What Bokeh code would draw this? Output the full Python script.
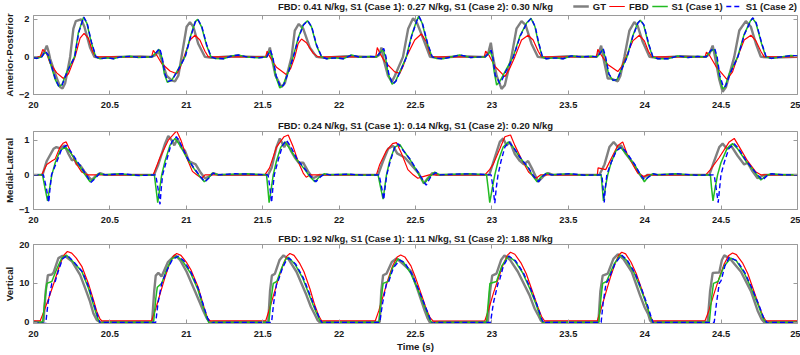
from bokeh.plotting import figure
from bokeh.layouts import column
from bokeh.models import Range1d, FixedTicker, Legend, LegendItem, LinearAxis, Label
from bokeh.embed import file_html
from bokeh.resources import INLINE

# ---------------- data ----------------
X_TICKS = [20, 20.5, 21, 21.5, 22, 22.5, 23, 23.5, 24, 24.5, 25]
X_TICK_LABELS = ["20", "20.5", "21", "21.5", "22", "22.5", "23", "23.5", "24", "24.5", "25"]

TITLES = [
    "FBD: 0.41 N/kg, S1 (Case 1): 0.27 N/kg, S1 (Case 2): 0.30 N/kg",
    "FBD: 0.24 N/kg, S1 (Case 1): 0.14 N/kg, S1 (Case 2): 0.20 N/kg",
    "FBD: 1.92 N/kg, S1 (Case 1): 1.11 N/kg, S1 (Case 2): 1.88 N/kg",
]
Y_LABELS = ["Anterior-Posterior", "Medial-Lateral", "Vertical"]
Y_TICKS = [[-2, 0, 2], [-1, 0, 1], [0, 10, 20]]
Y_LIMITS = [(-2.0, 2.2), (-1.0, 1.25), (-0.3, 20.0)]
SERIES_NAMES = ["GT", "FBD", "S1 (Case 1)", "S1 (Case 2)"]

# ---- Anterior-Posterior (t, value) ----
AP_GT = [
    (20.00, -0.05), (20.044, 0.0), (20.072, 0.3), (20.087, 0.6), (20.098, 0.3), (20.109, -0.1), (20.142, -0.9),
    (20.174, -1.6), (20.190, -1.68), (20.207, -1.4), (20.240, 0.0), (20.261, 1.5), (20.277, 1.9), (20.312, 2.0),
    (20.333, 1.6), (20.370, 0.5), (20.399, 0.0), (20.436, -0.05), (20.55, 0.0), (20.70, 0.02),
    (20.773, 0.0), (20.800, 0.1), (20.817, 0.35), (20.832, 0.0), (20.871, -1.0), (20.904, -1.25), (20.926, -1.3),
    (20.948, -1.0), (20.969, 0.0), (21.002, 1.6), (21.024, 1.85), (21.046, 1.6), (21.078, 0.7), (21.122, 0.0),
    (21.166, -0.05), (21.30, 0.03), (21.45, 0.0),
    (21.525, 0.0), (21.536, 0.2), (21.547, 0.5), (21.558, 0.0), (21.584, -1.0), (21.623, -1.6), (21.645, -1.4),
    (21.689, 0.0), (21.710, 1.4), (21.736, 1.75), (21.765, 1.5), (21.808, 0.5), (21.852, 0.0), (21.90, -0.05),
    (22.05, 0.03), (22.20, 0.0),
    (22.244, 0.0), (22.262, 0.1), (22.277, 0.5), (22.290, -0.1), (22.320, -1.0), (22.345, -1.33), (22.365, -1.0),
    (22.418, 0.0), (22.452, 1.5), (22.484, 2.05), (22.510, 1.8), (22.549, 1.0), (22.595, 0.0), (22.65, -0.05),
    (22.80, 0.03), (22.93, 0.0),
    (22.954, 0.0), (22.976, 0.2), (22.993, 0.75), (23.007, 0.0), (23.031, -1.0), (23.063, -1.7), (23.085, -1.5),
    (23.128, 0.0), (23.161, 1.5), (23.194, 1.9), (23.220, 1.7), (23.259, 0.7), (23.301, 0.0), (23.35, -0.05),
    (23.50, 0.03), (23.65, 0.0),
    (23.682, 0.0), (23.699, 0.2), (23.715, 0.6), (23.728, 0.0), (23.758, -1.15), (23.780, -1.15), (23.824, -1.3),
    (23.841, -1.0), (23.867, 0.0), (23.900, 1.4), (23.932, 1.85), (23.954, 1.65), (23.987, 0.8), (24.031, 0.0),
    (24.08, -0.05), (24.25, 0.03), (24.38, 0.0),
    (24.401, 0.0), (24.423, 0.15), (24.445, 0.6), (24.460, 0.0), (24.488, -1.2), (24.510, -1.85), (24.532, -1.6),
    (24.586, 0.0), (24.619, 1.4), (24.662, 1.9), (24.695, 1.6), (24.728, 0.7), (24.760, 0.0), (24.85, -0.03),
    (25.00, 0.0),
]
AP_FBD = [
    (20.0, 0.0), (20.044, 0.0), (20.061, 0.4), (20.087, 0.15), (20.109, -0.35), (20.152, -0.85), (20.196, -1.15),
    (20.229, -0.9), (20.272, 0.0), (20.305, 1.0), (20.331, 1.25), (20.359, 1.0), (20.386, 0.3), (20.407, 0.0),
    (20.773, 0.0), (20.784, 0.35), (20.806, 0.1), (20.839, -0.35), (20.893, -0.75), (20.937, -0.9), (20.959, -0.6),
    (20.985, 0.0), (21.024, 0.9), (21.057, 1.15), (21.089, 0.9), (21.122, 0.3), (21.144, 0.0),
    (21.519, 0.0), (21.529, 0.3), (21.547, 0.0), (21.590, -0.55), (21.656, -0.95), (21.684, -0.6), (21.710, 0.0),
    (21.732, 0.7), (21.754, 0.95), (21.786, 0.75), (21.830, 0.2), (21.863, 0.0),
    (22.240, 0.0), (22.250, 0.5), (22.266, 0.2), (22.299, -0.25), (22.364, -0.8), (22.397, -0.88), (22.419, -0.5),
    (22.440, 0.0), (22.495, 0.9), (22.538, 1.22), (22.571, 0.8), (22.593, 0.2), (22.608, 0.0),
    (22.950, 0.0), (22.959, 0.3), (22.980, 0.1), (23.019, -0.5), (23.085, -1.05), (23.117, -0.6), (23.150, 0.0),
    (23.194, 0.9), (23.237, 1.15), (23.270, 0.9), (23.303, 0.3), (23.325, 0.0),
    (23.684, 0.0), (23.693, 0.4), (23.715, 0.1), (23.758, -0.4), (23.824, -0.78), (23.850, -0.5), (23.878, 0.0),
    (23.922, 0.85), (23.965, 1.15), (23.998, 0.85), (24.024, 0.3), (24.046, 0.0),
    (24.395, 0.0), (24.404, 0.25), (24.423, 0.1), (24.466, -0.5), (24.538, -1.2), (24.575, -0.8), (24.608, 0.0),
    (24.651, 0.9), (24.695, 1.15), (24.728, 0.85), (24.760, 0.3), (24.782, 0.0), (25.0, 0.0),
]
AP_S1C1 = [
    (20.00, -0.05), (20.022, -0.08), (20.054, 0.0), (20.076, 0.25), (20.094, 0.1), (20.120, -0.6), (20.142, -1.2),
    (20.163, -1.55), (20.185, -1.5), (20.218, -0.8), (20.268, 0.0), (20.294, 1.3), (20.327, 2.1), (20.349, 1.8),
    (20.377, 0.8), (20.407, 0.0), (20.436, -0.1), (20.479, -0.05), (20.523, -0.1), (20.566, 0.0), (20.632, 0.03),
    (20.686, -0.03), (20.752, 0.0),
    (20.773, 0.0), (20.800, 0.2), (20.821, 0.4), (20.839, 0.0), (20.856, -0.9), (20.876, -1.35), (20.904, -1.25),
    (20.937, -0.8), (20.991, 0.0), (21.024, 1.0), (21.057, 1.85), (21.074, 2.0), (21.100, 1.6), (21.133, 0.6),
    (21.161, 0.0), (21.187, -0.08), (21.242, -0.1), (21.296, 0.05), (21.340, 0.1), (21.394, 0.0), (21.471, -0.05),
    (21.525, 0.0), (21.547, 0.3), (21.562, 0.0), (21.584, -1.0), (21.612, -1.65), (21.634, -1.5), (21.667, -0.8),
    (21.699, 0.0), (21.732, 1.0), (21.765, 1.7), (21.793, 1.92), (21.819, 1.6), (21.852, 0.6), (21.885, 0.0),
    (21.917, -0.1), (21.972, -0.05), (22.026, -0.1), (22.081, 0.1), (22.135, -0.02), (22.200, 0.02),
    (22.244, 0.0), (22.266, 0.2), (22.288, 0.4), (22.303, 0.0), (22.321, -0.9), (22.347, -1.45), (22.369, -1.3),
    (22.408, -0.6), (22.440, 0.0), (22.473, 1.1), (22.506, 1.9), (22.521, 2.15), (22.543, 1.8), (22.578, 0.7),
    (22.608, 0.0), (22.636, -0.08), (22.680, -0.1), (22.789, 0.1), (22.860, -0.03), (22.930, 0.0),
    (22.954, 0.0), (22.976, 0.15), (22.989, 0.3), (23.002, 0.0), (23.015, -0.8), (23.031, -1.5), (23.052, -1.3),
    (23.085, -0.8), (23.139, 0.0), (23.183, 1.1), (23.227, 1.8), (23.256, 2.05), (23.282, 1.6), (23.303, 0.8),
    (23.329, 0.0), (23.355, -0.1), (23.410, -0.05), (23.464, -0.1), (23.519, 0.05), (23.584, 0.0), (23.649, 0.03),
    (23.689, 0.0), (23.710, 0.2), (23.725, 0.4), (23.741, 0.0), (23.763, -0.9), (23.791, -1.25), (23.819, -1.2),
    (23.845, -0.7), (23.884, 0.0), (23.921, 1.1), (23.954, 1.8), (23.971, 1.95), (23.993, 1.7), (24.024, 0.7),
    (24.052, 0.0), (24.085, -0.1), (24.150, -0.1), (24.216, 0.05), (24.281, -0.03), (24.346, 0.02),
    (24.401, 0.0), (24.430, 0.3), (24.455, 0.4), (24.471, 0.0), (24.488, -1.0), (24.510, -1.7), (24.525, -1.6),
    (24.554, -0.9), (24.608, 0.0), (24.651, 1.2), (24.691, 1.9), (24.706, 2.05), (24.728, 1.8), (24.765, 0.7),
    (24.793, 0.0), (24.826, -0.08), (24.891, 0.0), (24.956, 0.07), (25.0, 0.05),
]
AP_S1C2 = [
    (20.00, -0.05), (20.022, -0.08), (20.054, 0.0), (20.078, 0.3), (20.096, 0.1), (20.122, -0.6), (20.144, -1.2),
    (20.165, -1.55), (20.187, -1.5), (20.220, -0.8), (20.270, 0.0), (20.296, 1.3), (20.329, 2.12), (20.351, 1.8),
    (20.379, 0.8), (20.409, 0.0), (20.438, -0.1), (20.481, -0.05), (20.525, -0.1), (20.568, 0.0), (20.634, 0.03),
    (20.688, -0.03), (20.752, 0.0),
    (20.775, 0.0), (20.805, 0.25), (20.826, 0.45), (20.842, 0.0), (20.860, -0.9), (20.880, -1.3), (20.906, -1.25),
    (20.939, -0.8), (20.993, 0.0), (21.026, 1.0), (21.059, 1.85), (21.076, 2.0), (21.102, 1.6), (21.135, 0.6),
    (21.163, 0.0), (21.189, -0.08), (21.244, -0.1), (21.298, 0.05), (21.342, 0.1), (21.396, 0.0), (21.473, -0.05),
    (21.527, 0.0), (21.550, 0.35), (21.566, 0.0), (21.588, -1.0), (21.616, -1.6), (21.637, -1.5), (21.669, -0.8),
    (21.701, 0.0), (21.734, 1.0), (21.767, 1.7), (21.795, 1.92), (21.821, 1.6), (21.854, 0.6), (21.887, 0.0),
    (21.919, -0.1), (21.974, -0.05), (22.028, -0.1), (22.083, 0.1), (22.137, -0.02), (22.202, 0.02),
    (22.246, 0.0), (22.270, 0.25), (22.292, 0.45), (22.307, 0.0), (22.325, -0.9), (22.351, -1.45), (22.372, -1.3),
    (22.410, -0.6), (22.442, 0.0), (22.475, 1.1), (22.508, 1.9), (22.523, 2.15), (22.545, 1.8), (22.580, 0.7),
    (22.610, 0.0), (22.638, -0.08), (22.682, -0.1), (22.791, 0.1), (22.862, -0.03), (22.932, 0.0),
    (22.956, 0.0), (22.980, 0.2), (22.995, 0.35), (23.006, 0.0), (23.022, -1.0), (23.035, -1.1), (23.050, -1.4),
    (23.062, -1.3), (23.090, -0.8), (23.141, 0.0), (23.185, 1.1), (23.229, 1.8), (23.258, 2.05), (23.284, 1.6),
    (23.305, 0.8), (23.331, 0.0), (23.357, -0.1), (23.412, -0.05), (23.466, -0.1), (23.521, 0.05), (23.586, 0.0),
    (23.651, 0.03),
    (23.691, 0.0), (23.713, 0.25), (23.728, 0.45), (23.744, 0.0), (23.766, -0.9), (23.794, -1.25), (23.821, -1.2),
    (23.847, -0.7), (23.886, 0.0), (23.923, 1.1), (23.956, 1.8), (23.973, 1.95), (23.995, 1.7), (24.026, 0.7),
    (24.054, 0.0), (24.087, -0.1), (24.152, -0.1), (24.218, 0.05), (24.283, -0.03), (24.348, 0.02),
    (24.403, 0.0), (24.433, 0.35), (24.458, 0.45), (24.474, 0.0), (24.492, -1.0), (24.515, -1.6), (24.530, -1.55),
    (24.558, -0.9), (24.610, 0.0), (24.653, 1.2), (24.693, 1.9), (24.708, 2.08), (24.730, 1.8), (24.767, 0.7),
    (24.795, 0.0), (24.828, -0.08), (24.893, 0.0), (24.958, 0.07), (25.0, 0.05),
]

# ---- Medial-Lateral (t, value) ----
ML_GT = [
    (20.0, 0.0), (20.059, 0.0), (20.087, 0.4), (20.131, 0.75), (20.150, 0.8), (20.174, 0.76), (20.203, 0.85),
    (20.229, 0.6), (20.251, 0.42), (20.268, 0.45), (20.283, 0.3), (20.305, 0.28), (20.333, 0.1), (20.359, -0.05),
    (20.381, -0.15), (20.403, -0.05), (20.436, 0.05), (20.468, 0.0),
    (20.789, 0.0), (20.817, 0.3), (20.861, 0.9), (20.882, 1.12), (20.904, 1.0), (20.922, 0.85), (20.943, 1.05),
    (20.965, 0.8), (20.991, 0.7), (21.017, 0.4), (21.039, 0.35), (21.061, 0.3), (21.096, 0.05), (21.122, -0.1),
    (21.148, -0.05), (21.176, 0.05), (21.209, 0.0),
    (21.536, 0.0), (21.558, 0.2), (21.590, 0.8), (21.612, 1.05), (21.641, 0.8), (21.658, 0.95), (21.684, 0.7),
    (21.710, 0.5), (21.736, 0.35), (21.765, 0.35), (21.797, 0.1), (21.830, -0.1), (21.874, 0.0),
    (22.255, 0.0), (22.288, 0.4), (22.321, 0.75), (22.353, 0.84), (22.380, 0.62), (22.408, 0.55), (22.430, 0.5),
    (22.460, 0.35), (22.490, 0.2), (22.520, 0.05), (22.555, -0.25), (22.580, -0.1), (22.610, 0.05), (22.640, 0.0),
    (22.983, 0.0), (23.019, 0.5), (23.052, 0.95), (23.074, 1.05), (23.096, 0.85), (23.118, 0.95), (23.150, 0.6),
    (23.183, 0.4), (23.209, 0.3), (23.237, 0.4), (23.266, 0.15), (23.303, -0.2), (23.335, -0.05), (23.368, 0.05),
    (23.401, 0.0),
    (23.704, 0.0), (23.737, 0.3), (23.769, 0.8), (23.797, 0.95), (23.824, 0.8), (23.845, 0.85), (23.878, 0.6),
    (23.922, 0.35), (23.954, 0.1), (23.987, -0.1), (24.019, 0.0),
    (24.423, 0.0), (24.455, 0.4), (24.488, 0.8), (24.510, 0.9), (24.538, 0.75), (24.564, 0.85), (24.608, 0.55),
    (24.651, 0.3), (24.673, 0.35), (24.706, 0.1), (24.739, -0.1), (24.782, 0.0), (25.0, 0.0),
]
ML_FBD = [
    (20.0, 0.0), (20.054, 0.0), (20.087, 0.3), (20.120, 0.4), (20.142, 0.46), (20.174, 0.8), (20.196, 0.92),
    (20.214, 0.95), (20.250, 0.6), (20.283, 0.3), (20.316, 0.08), (20.350, 0.0),
    (20.784, 0.0), (20.828, 0.5), (20.882, 1.0), (20.937, 1.27), (20.965, 1.0), (21.002, 0.5), (21.040, 0.1),
    (21.068, 0.0), (21.100, -0.1), (21.122, 0.0),
    (21.514, 0.0), (21.545, 0.2), (21.590, 0.8), (21.640, 1.1), (21.667, 1.15), (21.700, 0.8), (21.735, 0.35),
    (21.765, 0.05), (21.785, -0.07), (21.810, 0.0),
    (22.244, 0.0), (22.266, 0.3), (22.310, 0.7), (22.350, 0.9), (22.375, 0.93), (22.410, 0.6), (22.450, 0.15),
    (22.485, 0.0), (22.515, -0.1), (22.550, -0.05), (22.590, 0.0),
    (22.954, 0.0), (22.985, 0.15), (23.008, 0.3), (23.052, 0.75), (23.085, 1.1), (23.122, 1.15), (23.150, 0.85),
    (23.194, 0.45), (23.240, 0.08), (23.260, 0.0), (23.289, -0.1), (23.320, 0.0),
    (23.690, 0.0), (23.695, 0.2), (23.745, 0.15), (23.790, 0.55), (23.825, 0.85), (23.856, 0.95), (23.885, 0.6),
    (23.922, 0.3), (23.955, 0.05), (23.976, 0.0), (23.995, -0.05), (24.020, 0.0),
    (24.400, 0.0), (24.430, 0.15), (24.488, 0.5), (24.553, 0.95), (24.586, 1.05), (24.620, 0.8), (24.673, 0.4),
    (24.728, 0.08), (24.760, 0.0), (25.0, 0.0),
]
ML_S1C1 = [
    (20.0, 0.0), (20.059, 0.0), (20.076, -0.4), (20.092, -0.75), (20.105, -0.4), (20.120, 0.0), (20.142, 0.35),
    (20.174, 0.7), (20.207, 0.8), (20.240, 0.65), (20.294, 0.3), (20.338, 0.0), (20.370, -0.2), (20.399, -0.1),
    (20.425, 0.03), (20.468, 0.0), (20.56, 0.03), (20.68, -0.02),
    (20.791, 0.0), (20.802, -0.4), (20.813, -0.8), (20.826, -0.4), (20.839, 0.0), (20.861, 0.4), (20.893, 0.85),
    (20.926, 1.05), (20.959, 0.85), (21.002, 0.5), (21.046, 0.2), (21.089, -0.05), (21.118, -0.2), (21.144, -0.1),
    (21.170, 0.05), (21.209, 0.0), (21.30, 0.02), (21.40, 0.03),
    (21.525, 0.0), (21.534, -0.4), (21.542, -0.8), (21.556, -0.4), (21.569, 0.0), (21.590, 0.4), (21.619, 0.8),
    (21.645, 0.95), (21.678, 0.75), (21.721, 0.45), (21.776, 0.15), (21.808, -0.05), (21.841, -0.2),
    (21.874, -0.05), (21.902, 0.03), (21.939, 0.0), (22.05, 0.02), (22.15, -0.01),
    (22.255, 0.0), (22.273, -0.4), (22.288, -0.7), (22.299, -0.35), (22.310, 0.0), (22.331, 0.4), (22.364, 0.8),
    (22.397, 0.88), (22.430, 0.65), (22.462, 0.45), (22.517, 0.05), (22.556, -0.25), (22.593, -0.05),
    (22.626, 0.08), (22.658, 0.0), (22.75, 0.02), (22.85, 0.03),
    (22.965, 0.0), (22.976, -0.4), (22.986, -0.8), (23.002, -0.4), (23.019, 0.0), (23.041, 0.4), (23.074, 0.8),
    (23.107, 0.95), (23.139, 0.8), (23.183, 0.5), (23.237, 0.2), (23.270, -0.05), (23.296, -0.2), (23.324, -0.05),
    (23.357, 0.05), (23.390, 0.0), (23.50, 0.03), (23.60, -0.01),
    (23.715, 0.0), (23.723, -0.4), (23.730, -0.75), (23.743, -0.35), (23.758, 0.0), (23.780, 0.35), (23.813, 0.7),
    (23.841, 0.8), (23.878, 0.6), (23.932, 0.3), (23.971, 0.0), (23.998, -0.2), (24.024, -0.05), (24.052, 0.03),
    (24.085, 0.0), (24.20, 0.03), (24.33, -0.01),
    (24.430, 0.0), (24.438, -0.4), (24.447, -0.75), (24.460, -0.4), (24.477, 0.0), (24.499, 0.35), (24.538, 0.75),
    (24.575, 0.9), (24.608, 0.75), (24.662, 0.4), (24.717, 0.1), (24.760, -0.15), (24.793, -0.03), (24.826, 0.03),
    (24.9, 0.0), (25.0, 0.0),
]
ML_S1C2 = [
    (20.0, 0.0), (20.065, 0.0), (20.085, -0.4), (20.100, -0.8), (20.108, -0.4), (20.118, 0.0), (20.150, 0.35),
    (20.185, 0.75), (20.215, 0.85), (20.240, 0.7), (20.300, 0.3), (20.345, 0.0), (20.375, -0.22), (20.405, -0.1),
    (20.430, 0.03), (20.47, 0.0), (20.58, 0.03), (20.70, -0.02),
    (20.800, 0.0), (20.815, -0.4), (20.828, -0.85), (20.836, -0.4), (20.845, 0.0), (20.870, 0.4), (20.905, 0.95),
    (20.935, 1.1), (20.962, 0.9), (21.005, 0.5), (21.050, 0.2), (21.092, -0.05), (21.122, -0.2), (21.150, -0.08),
    (21.175, 0.05), (21.21, 0.0), (21.32, 0.03), (21.42, 0.02),
    (21.535, 0.0), (21.548, -0.4), (21.558, -0.8), (21.566, -0.4), (21.576, 0.0), (21.600, 0.4), (21.630, 0.85),
    (21.656, 1.0), (21.685, 0.8), (21.725, 0.45), (21.780, 0.15), (21.815, -0.05), (21.848, -0.2), (21.880, -0.05),
    (21.905, 0.03), (21.94, 0.0), (22.06, 0.02), (22.16, -0.01),
    (22.262, 0.0), (22.280, -0.4), (22.292, -0.72), (22.300, -0.4), (22.312, 0.0), (22.335, 0.4), (22.365, 0.8),
    (22.385, 0.9), (22.420, 0.7), (22.465, 0.45), (22.520, 0.05), (22.570, -0.3), (22.600, -0.05), (22.630, 0.06),
    (22.66, 0.0), (22.76, 0.02), (22.86, 0.03),
    (22.995, 0.0), (23.008, -0.4), (23.019, -0.82), (23.028, -0.4), (23.040, 0.0), (23.060, 0.4), (23.085, 0.8),
    (23.112, 0.95), (23.140, 0.8), (23.185, 0.5), (23.240, 0.2), (23.275, -0.05), (23.305, -0.2), (23.330, -0.05),
    (23.36, 0.05), (23.39, 0.0), (23.51, 0.03), (23.61, -0.01),
    (23.720, 0.0), (23.728, -0.4), (23.735, -0.8), (23.742, -0.4), (23.752, 0.0), (23.780, 0.35), (23.815, 0.7),
    (23.850, 0.8), (23.880, 0.65), (23.935, 0.3), (23.972, 0.0), (24.000, -0.15), (24.030, -0.05), (24.055, 0.03),
    (24.085, 0.0), (24.21, 0.03), (24.34, -0.01),
    (24.455, 0.0), (24.468, -0.4), (24.481, -0.8), (24.490, -0.4), (24.499, 0.0), (24.520, 0.35), (24.550, 0.75),
    (24.585, 0.9), (24.610, 0.78), (24.665, 0.4), (24.720, 0.1), (24.770, -0.15), (24.80, -0.03), (24.83, 0.03),
    (24.91, 0.0), (25.0, 0.0),
]

# ---- Vertical (t, value) ----
V_GT = [
    (20.0, 0.1), (20.065, 0.1), (20.080, 8.0), (20.094, 12.1), (20.120, 12.3), (20.131, 12.8), (20.163, 16.5),
    (20.190, 17.1), (20.215, 16.8), (20.251, 15.7), (20.305, 12.2), (20.338, 8.8), (20.370, 5.3), (20.392, 2.3),
    (20.414, 0.6), (20.436, 0.0), (20.46, 0.1),
    (20.776, 0.1), (20.790, 8.0), (20.800, 12.0), (20.817, 12.7), (20.838, 11.8), (20.880, 15.5), (20.926, 17.3),
    (20.960, 16.0), (21.002, 13.0), (21.057, 8.0), (21.111, 3.0), (21.135, 1.0), (21.155, 0.0), (21.18, 0.1),
    (21.536, 0.1), (21.548, 8.0), (21.560, 12.0), (21.580, 12.5), (21.610, 16.0), (21.636, 17.2), (21.670, 16.2),
    (21.721, 13.0), (21.786, 7.0), (21.815, 4.0), (21.841, 2.0), (21.860, 0.5), (21.874, 0.0), (21.90, 0.1),
    (22.266, 0.1), (22.276, 8.0), (22.288, 12.1), (22.310, 12.5), (22.345, 15.5), (22.375, 16.4), (22.410, 15.3),
    (22.473, 13.0), (22.517, 8.0), (22.560, 3.0), (22.580, 1.0), (22.594, 0.0), (22.62, 0.1),
    (22.974, 0.1), (22.988, 8.0), (23.002, 12.0), (23.030, 12.5), (23.060, 16.0), (23.082, 17.2), (23.120, 16.0),
    (23.170, 13.0), (23.246, 7.0), (23.280, 3.5), (23.301, 2.0), (23.320, 0.5), (23.333, 0.0), (23.36, 0.1),
    (23.697, 0.1), (23.710, 8.0), (23.725, 12.0), (23.758, 12.5), (23.795, 16.3), (23.824, 17.5), (23.860, 16.3),
    (23.915, 13.0), (23.969, 7.0), (24.000, 3.8), (24.024, 2.0), (24.035, 0.5), (24.046, 0.0), (24.07, 0.1),
    (24.412, 0.1), (24.428, 8.0), (24.445, 12.7), (24.488, 12.8), (24.505, 16.0), (24.521, 17.2), (24.560, 16.3),
    (24.630, 13.0), (24.695, 8.0), (24.739, 3.0), (24.765, 0.8), (24.782, 0.0), (24.82, 0.1), (25.0, 0.1),
]
V_FBD = [
    (20.0, 0.4), (20.044, 0.4), (20.070, 3.0), (20.098, 6.0), (20.137, 10.5), (20.174, 15.0), (20.200, 17.3),
    (20.222, 18.2), (20.250, 17.8), (20.280, 16.5), (20.316, 14.4), (20.359, 10.0), (20.392, 5.8), (20.414, 2.8),
    (20.436, 0.8), (20.447, 0.4),
    (20.773, 0.4), (20.800, 3.5), (20.830, 7.5), (20.860, 11.5), (20.890, 15.0), (20.915, 17.0), (20.937, 17.7),
    (20.965, 17.2), (21.000, 15.5), (21.030, 13.5), (21.078, 9.0), (21.100, 6.0), (21.122, 3.0), (21.140, 1.0),
    (21.155, 0.4),
    (21.520, 0.4), (21.545, 3.5), (21.575, 7.5), (21.605, 11.5), (21.635, 15.0), (21.658, 17.0), (21.678, 17.7),
    (21.705, 17.2), (21.740, 15.3), (21.770, 13.0), (21.810, 8.5), (21.840, 4.5), (21.865, 1.8), (21.885, 0.4),
    (22.237, 0.4), (22.260, 3.0), (22.290, 7.0), (22.320, 11.0), (22.350, 14.5), (22.380, 16.8), (22.403, 17.3),
    (22.430, 16.8), (22.470, 14.5), (22.500, 11.5), (22.540, 7.0), (22.570, 3.5), (22.595, 1.2), (22.616, 0.3),
    (22.954, 0.4), (22.980, 3.5), (23.010, 7.5), (23.040, 11.0), (23.070, 14.5), (23.100, 17.2), (23.122, 18.0),
    (23.150, 17.5), (23.190, 15.3), (23.225, 12.5), (23.265, 8.0), (23.300, 4.0), (23.325, 1.5), (23.344, 0.4),
    (23.690, 0.4), (23.715, 3.5), (23.745, 7.5), (23.775, 11.5), (23.805, 15.0), (23.830, 17.3), (23.850, 18.0),
    (23.875, 17.6), (23.910, 15.5), (23.945, 12.5), (23.985, 8.0), (24.015, 4.0), (24.038, 1.5), (24.052, 0.4),
    (24.395, 0.4), (24.420, 3.0), (24.455, 7.5), (24.488, 11.5), (24.520, 15.0), (24.550, 17.2), (24.575, 17.8),
    (24.600, 17.4), (24.640, 15.3), (24.675, 12.5), (24.715, 8.0), (24.750, 4.0), (24.775, 1.5), (24.793, 0.4),
    (25.0, 0.4),
]
V_S1C1 = [
    (20.0, 0.0), (20.060, 0.0), (20.075, 6.0), (20.087, 10.0), (20.120, 10.5), (20.150, 13.5), (20.185, 16.5),
    (20.215, 17.3), (20.260, 15.5), (20.316, 13.1), (20.359, 8.8), (20.392, 4.5), (20.420, 1.0), (20.436, -0.3),
    (20.460, 0.0),
    (20.786, 0.0), (20.800, 6.0), (20.810, 9.0), (20.839, 10.0), (20.870, 13.5), (20.905, 16.3), (20.937, 17.0),
    (20.975, 15.8), (21.030, 12.5), (21.075, 8.5), (21.110, 4.0), (21.135, 1.0), (21.150, -0.3), (21.170, 0.0),
    (21.540, 0.0), (21.555, 6.0), (21.569, 10.0), (21.592, 10.5), (21.625, 14.0), (21.650, 16.2), (21.667, 16.7),
    (21.710, 15.0), (21.760, 11.5), (21.800, 7.5), (21.840, 3.5), (21.870, 0.8), (21.885, -0.3), (21.900, 0.0),
    (22.260, 0.0), (22.275, 6.0), (22.288, 10.0), (22.321, 10.5), (22.350, 14.0), (22.386, 16.3), (22.420, 15.5),
    (22.470, 12.5), (22.520, 8.0), (22.560, 4.0), (22.590, 1.0), (22.604, 0.0), (22.626, -0.4), (22.645, 0.0),
    (22.965, 0.0), (22.978, 6.0), (22.987, 10.0), (23.030, 10.5), (23.065, 14.5), (23.107, 17.0), (23.150, 15.8),
    (23.200, 12.8), (23.250, 8.5), (23.290, 4.5), (23.320, 1.0), (23.333, 0.0), (23.350, -0.3), (23.370, 0.0),
    (23.700, 0.0), (23.713, 6.0), (23.725, 10.0), (23.750, 10.5), (23.800, 15.0), (23.841, 17.3), (23.880, 16.0),
    (23.930, 12.8), (23.975, 8.5), (24.015, 4.2), (24.040, 1.0), (24.052, 0.0), (24.065, -0.3), (24.085, 0.0),
    (24.423, 0.0), (24.437, 6.0), (24.450, 10.0), (24.480, 10.5), (24.520, 14.5), (24.564, 16.5), (24.600, 15.8),
    (24.650, 12.8), (24.700, 8.5), (24.745, 4.2), (24.775, 1.0), (24.793, 0.0), (24.810, -0.3), (24.830, 0.0),
    (25.0, 0.0),
]
V_S1C2 = [
    (20.0, 0.0), (20.080, -0.3), (20.095, 5.0), (20.120, 10.0), (20.142, 10.5), (20.165, 13.5), (20.190, 16.3),
    (20.222, 17.2), (20.265, 15.5), (20.320, 13.0), (20.364, 8.8), (20.397, 4.5), (20.425, 1.0), (20.440, -0.5),
    (20.460, 0.0),
    (20.800, 0.0), (20.815, 5.0), (20.839, 10.0), (20.875, 13.5), (20.910, 16.2), (20.948, 17.0), (20.985, 15.8),
    (21.035, 12.5), (21.080, 8.5), (21.115, 4.0), (21.140, 1.0), (21.160, -0.4), (21.180, 0.0),
    (21.558, 0.0), (21.572, 5.0), (21.591, 10.0), (21.600, 10.5), (21.630, 14.0), (21.655, 16.0), (21.672, 16.5),
    (21.715, 15.0), (21.765, 11.5), (21.805, 7.5), (21.845, 3.5), (21.875, 0.8), (21.894, -0.4), (21.910, 0.0),
    (22.266, 0.0), (22.285, 5.0), (22.310, 10.0), (22.325, 10.5), (22.355, 14.0), (22.397, 16.0), (22.430, 15.3),
    (22.475, 12.5), (22.525, 8.0), (22.565, 4.0), (22.595, 1.0), (22.610, -0.4), (22.630, 0.0),
    (22.991, 0.0), (23.010, 5.0), (23.040, 10.0), (23.050, 10.8), (23.075, 14.5), (23.111, 17.0), (23.155, 15.8),
    (23.205, 12.8), (23.255, 8.5), (23.295, 4.5), (23.325, 1.0), (23.340, -0.3), (23.360, 0.0),
    (23.715, 0.0), (23.728, 5.0), (23.747, 10.0), (23.760, 10.7), (23.805, 15.0), (23.848, 17.3), (23.885, 16.0),
    (23.935, 12.8), (23.980, 8.5), (24.020, 4.2), (24.045, 1.0), (24.058, -0.3), (24.080, 0.0),
    (24.455, 0.0), (24.470, 5.0), (24.488, 10.0), (24.500, 10.7), (24.525, 14.5), (24.553, 16.7), (24.605, 15.8),
    (24.655, 12.8), (24.705, 8.5), (24.750, 4.2), (24.780, 1.0), (24.804, -0.3), (24.825, 0.0), (25.0, 0.0),
]

PANELS = [
    [AP_GT, AP_FBD, AP_S1C1, AP_S1C2],
    [ML_GT, ML_FBD, ML_S1C1, ML_S1C2],
    [V_GT, V_FBD, V_S1C1, V_S1C2],
]

# ---------------- styling ----------------
FONT = "Liberation Sans"
BOX = "#9a9a9a"
TXT = "#1a1a1a"
STYLES = [
    dict(line_color="#808080", line_width=2.4),
    dict(line_color="#ff0000", line_width=1.2),
    dict(line_color="#22bb22", line_width=1.5),
    dict(line_color="#0000ff", line_width=1.4, line_dash="5 3"),
]
HEADER_H = 12
# (height, min_border_top, min_border_bottom, has_title)
GEOM = [(103, 3, 21, False), (115, 16, 21, True), (125, 14, 32, True)]


def style_axis(ax):
    ax.axis_line_color = BOX
    ax.major_tick_line_color = BOX
    ax.major_tick_in = 4
    ax.major_tick_out = 0
    ax.minor_tick_line_color = None
    ax.major_label_text_font = FONT
    ax.major_label_text_font_size = "9.3px"
    ax.major_label_text_font_style = "bold"
    ax.major_label_text_color = TXT
    ax.axis_label_text_font = FONT
    ax.axis_label_text_font_size = "9.7px"
    ax.axis_label_text_font_style = "bold"
    ax.axis_label_text_color = TXT


def box_axis(ticks):
    # tick marks only (MATLAB-style box ticks on the top/right edges)
    return LinearAxis(ticker=FixedTicker(ticks=ticks), axis_line_color=None,
                      major_tick_line_color=BOX, major_tick_in=4, major_tick_out=0,
                      minor_tick_line_color=None, major_label_text_font_size="0px",
                      major_label_standoff=0, major_label_text_alpha=0)


def make_panel(i):
    h, bt, bb, has_title = GEOM[i]
    p = figure(width=800, height=h, x_range=Range1d(20, 25), y_range=Range1d(*Y_LIMITS[i]),
               output_backend="svg", toolbar_location=None,
               min_border_left=28, min_border_right=3, min_border_top=bt, min_border_bottom=bb)
    if has_title:
        p.title.text = TITLES[i]
        p.title.align = "center"
        p.title.text_font = FONT
        p.title.text_font_size = "9.5px"
        p.title.text_font_style = "bold"
        p.title.text_color = TXT
        p.title.standoff = 1
    p.grid.visible = False
    p.outline_line_color = BOX
    p.outline_line_width = 1

    for ax in p.axis:
        style_axis(ax)
    p.xaxis.ticker = FixedTicker(ticks=X_TICKS)
    p.xaxis.major_label_overrides = {float(t): lab for t, lab in zip(X_TICKS, X_TICK_LABELS)}
    p.xaxis.major_label_standoff = 7
    p.yaxis.ticker = FixedTicker(ticks=Y_TICKS[i])
    p.yaxis.major_label_standoff = 4
    p.yaxis.axis_label = Y_LABELS[i]
    p.yaxis.axis_label_standoff = 1
    if i == 2:
        p.xaxis.axis_label = "Time (s)"
        p.xaxis.axis_label_standoff = 1

    for series, st in zip(PANELS[i], STYLES):
        t = [a for a, b in series]
        y = [b for a, b in series]
        p.line(t, y, **st)
    p.add_layout(box_axis(X_TICKS), "above")
    p.add_layout(box_axis(Y_TICKS[i]), "right")
    return p


# header strip: title of the first panel + legend on one row
header = figure(width=800, height=HEADER_H, x_range=Range1d(20, 25), y_range=Range1d(0, 1),
                output_backend="svg", toolbar_location=None, x_axis_location=None, y_axis_location=None,
                min_border_left=28, min_border_right=3, min_border_top=0, min_border_bottom=0)
header.grid.visible = False
header.outline_line_color = None
header.add_layout(Label(x=22.5, y=0.5, text=TITLES[0], text_align="center", text_baseline="middle",
                        text_font=FONT, text_font_size="9.5px", text_font_style="bold", text_color=TXT))
NAN = float("nan")
legend_rs = [header.line(x=[NAN], y=[NAN], **st) for st in STYLES]   # legend swatches only
legend = Legend(
    items=[LegendItem(label=n, renderers=[r]) for n, r in zip(SERIES_NAMES, legend_rs)],
    orientation="horizontal", location="top_right",
    glyph_width=16, glyph_height=HEADER_H, label_height=HEADER_H, label_width=5,
    label_standoff=4, spacing=3, padding=0, margin=0,
    label_text_font=FONT, label_text_font_size="9.5px", label_text_font_style="bold",
    label_text_color=TXT, label_text_baseline="middle",
    background_fill_alpha=0, border_line_alpha=0,
)
header.add_layout(legend, "center")

figs = [header] + [make_panel(i) for i in range(3)]
layout = column(*figs, spacing=0)
open("out.html", "w").write(file_html(layout, INLINE))
